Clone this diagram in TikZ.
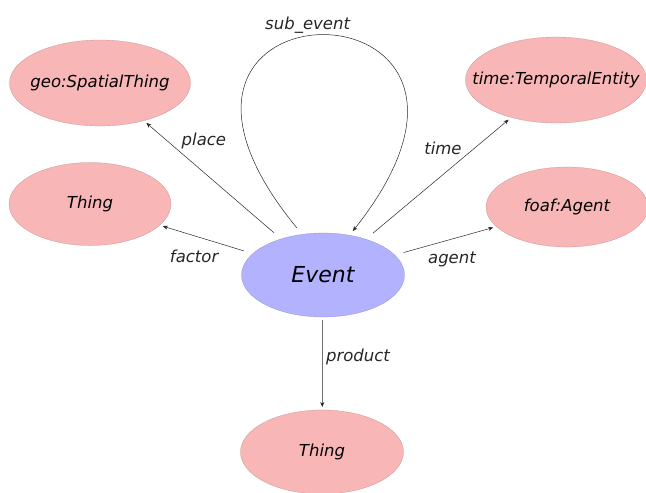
\documentclass[tikz,border=0pt]{standalone}
\usepackage{fontspec}
\setmainfont{DejaVu Sans}
\usetikzlibrary{shapes.geometric,arrows.meta}
\definecolor{thingred}{RGB}{248,182,182}
\definecolor{eventblue}{RGB}{178,178,255}
\begin{document}
\begin{tikzpicture}
    [   x=1pt,y=-1pt,
        font=\fontsize{16.5}{19}\selectfont\itshape,
        cnode/.style={fill=#1,draw=#1!75!black,line width=0.2pt,ellipse,minimum width=163pt,minimum height=84pt,inner sep=0pt,outer sep=3pt},
        link/.style={-{Stealth[length=5pt,width=4pt]},black!85,line width=0.5pt},
    ]
        \useasboundingbox (0,0) rectangle (646,493);
        \node[cnode=eventblue,label={[font=\fontsize{22}{26}\selectfont\itshape]center:Event}] (ev) at (323,275) {};
        \node[cnode=thingred,minimum width=181pt,minimum height=86pt,label={center:{geo:SpatialThing}}] (geo) at (100,83) {};
        \node[cnode=thingred,minimum width=162pt,minimum height=83pt,label=center:Thing] (thl) at (90,204) {};
        \node[cnode=thingred,minimum width=181pt,minimum height=86pt,label={center:{time:TemporalEntity}}] (tim) at (556,80) {};
        \node[cnode=thingred,minimum width=162pt,minimum height=80pt,label={center:{foaf:Agent}}] (foaf) at (567,207) {};
        \node[cnode=thingred,label=center:Thing] (thb) at (322,452) {};
        \foreach \n/\name/\p/\anc in {geo/place/0.76/south west,thl/factor/0.32/north east,tim/time/0.69/south east,foaf/agent/0.28/north west}
        {   \draw[link,shorten <=6pt] (ev) -- node[pos=\p,anchor=\anc,yshift=-2pt] {\name} (\n);
        }
        \draw[link] (ev) -- node[pos=0.42,anchor=west] {product} (thb);
        \draw[link,shorten <=5pt,shorten >=2pt] (ev.118) .. controls (85,-30) and (560,-30) .. node[pos=0.46,above] {sub\_event} (ev.56);
  \end{tikzpicture}
\end{document}
